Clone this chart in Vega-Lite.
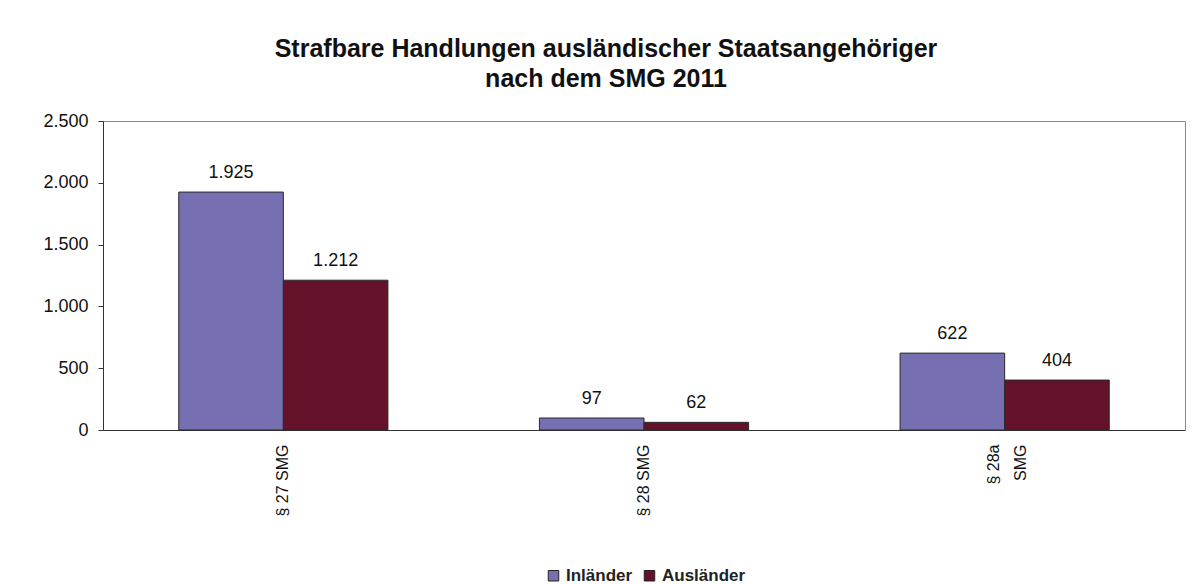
{
  "$schema": "https://vega.github.io/schema/vega-lite/v6.json",
  "width": 1082,
  "height": 309,
  "autosize": "none",
  "padding": {"left": 103, "top": 121, "right": 7, "bottom": 154},
  "background": "white",
  "title": {
    "text": ["Strafbare Handlungen ausländischer Staatsangehöriger", "nach dem SMG 2011"],
    "font": "Liberation Sans",
    "fontSize": 25,
    "fontWeight": "bold",
    "color": "#111",
    "lineHeight": 30,
    "anchor": "middle",
    "dx": -38,
    "offset": 20
  },
  "data": {
    "values": [
      {"para": "§ 27 SMG", "group": "Inländer", "value": 1925},
      {"para": "§ 27 SMG", "group": "Ausländer", "value": 1212},
      {"para": "§ 28 SMG", "group": "Inländer", "value": 97},
      {"para": "§ 28 SMG", "group": "Ausländer", "value": 62},
      {"para": "§ 28a SMG", "group": "Inländer", "value": 622},
      {"para": "§ 28a SMG", "group": "Ausländer", "value": 404}
    ]
  },
  "encoding": {
    "x": {
      "field": "para",
      "type": "nominal",
      "sort": null,
      "scale": {"paddingInner": 0.42, "paddingOuter": 0.21},
      "axis": {
        "title": null,
        "labelAngle": -90,
        "labelAlign": "right",
        "labelBaseline": "middle",
        "labelFont": "Liberation Sans",
        "labelFontSize": 16,
        "labelColor": "#111",
        "labelPadding": 14,
        "ticks": false,
        "domainColor": "#333",
        "labelExpr": "datum.value == '§ 28a SMG' ? ['§ 28a', 'SMG'] : datum.value",
        "labelLineHeight": 27,
        "labelOffset": {"condition": {"test": "datum.value == '§ 28a SMG'", "value": -11}, "value": 0}
      }
    },
    "xOffset": {"field": "group", "type": "nominal", "sort": ["Inländer", "Ausländer"], "scale": {"paddingInner": 0, "paddingOuter": 0}},
    "y": {
      "field": "value",
      "type": "quantitative",
      "scale": {"domain": [0, 2500]},
      "axis": {
        "title": null,
        "values": [0, 500, 1000, 1500, 2000, 2500],
        "labelExpr": "format(datum.value, ',')",
        "grid": false,
        "labelFont": "Liberation Sans",
        "labelFontSize": 18,
        "labelColor": "#111",
        "labelPadding": 10,
        "tickSize": 5,
        "tickColor": "#333",
        "domainColor": "#333"
      }
    }
  },
  "layer": [
    {
      "mark": {"type": "bar", "stroke": "#2a2a2a", "strokeWidth": 1},
      "encoding": {
        "color": {
          "field": "group",
          "type": "nominal",
          "sort": ["Inländer", "Ausländer"],
          "scale": {"domain": ["Inländer", "Ausländer"], "range": ["#7670b2", "#63122a"]},
          "legend": {
            "title": null,
            "orient": "none",
            "legendX": 442,
            "legendY": 446,
            "direction": "horizontal",
            "symbolType": "square",
            "symbolSize": 110,
            "symbolStrokeColor": "#222",
            "symbolStrokeWidth": 1,
            "labelFont": "Liberation Sans",
            "labelFontSize": 17,
            "labelFontWeight": "bold",
            "labelColor": "#222",
            "labelOffset": 4,
            "columnPadding": 8
          }
        }
      }
    },
    {
      "mark": {"type": "text", "baseline": "bottom", "dy": -10, "font": "Liberation Sans", "fontSize": 18, "color": "#111"},
      "encoding": {
        "text": {"field": "value", "type": "quantitative", "format": ","}
      }
    }
  ],
  "config": {
    "locale": {"number": {"decimal": ",", "thousands": ".", "grouping": [3], "currency": ["", " €"]}},
    "view": {"stroke": "#8a8a8a", "strokeWidth": 1}
  }
}
